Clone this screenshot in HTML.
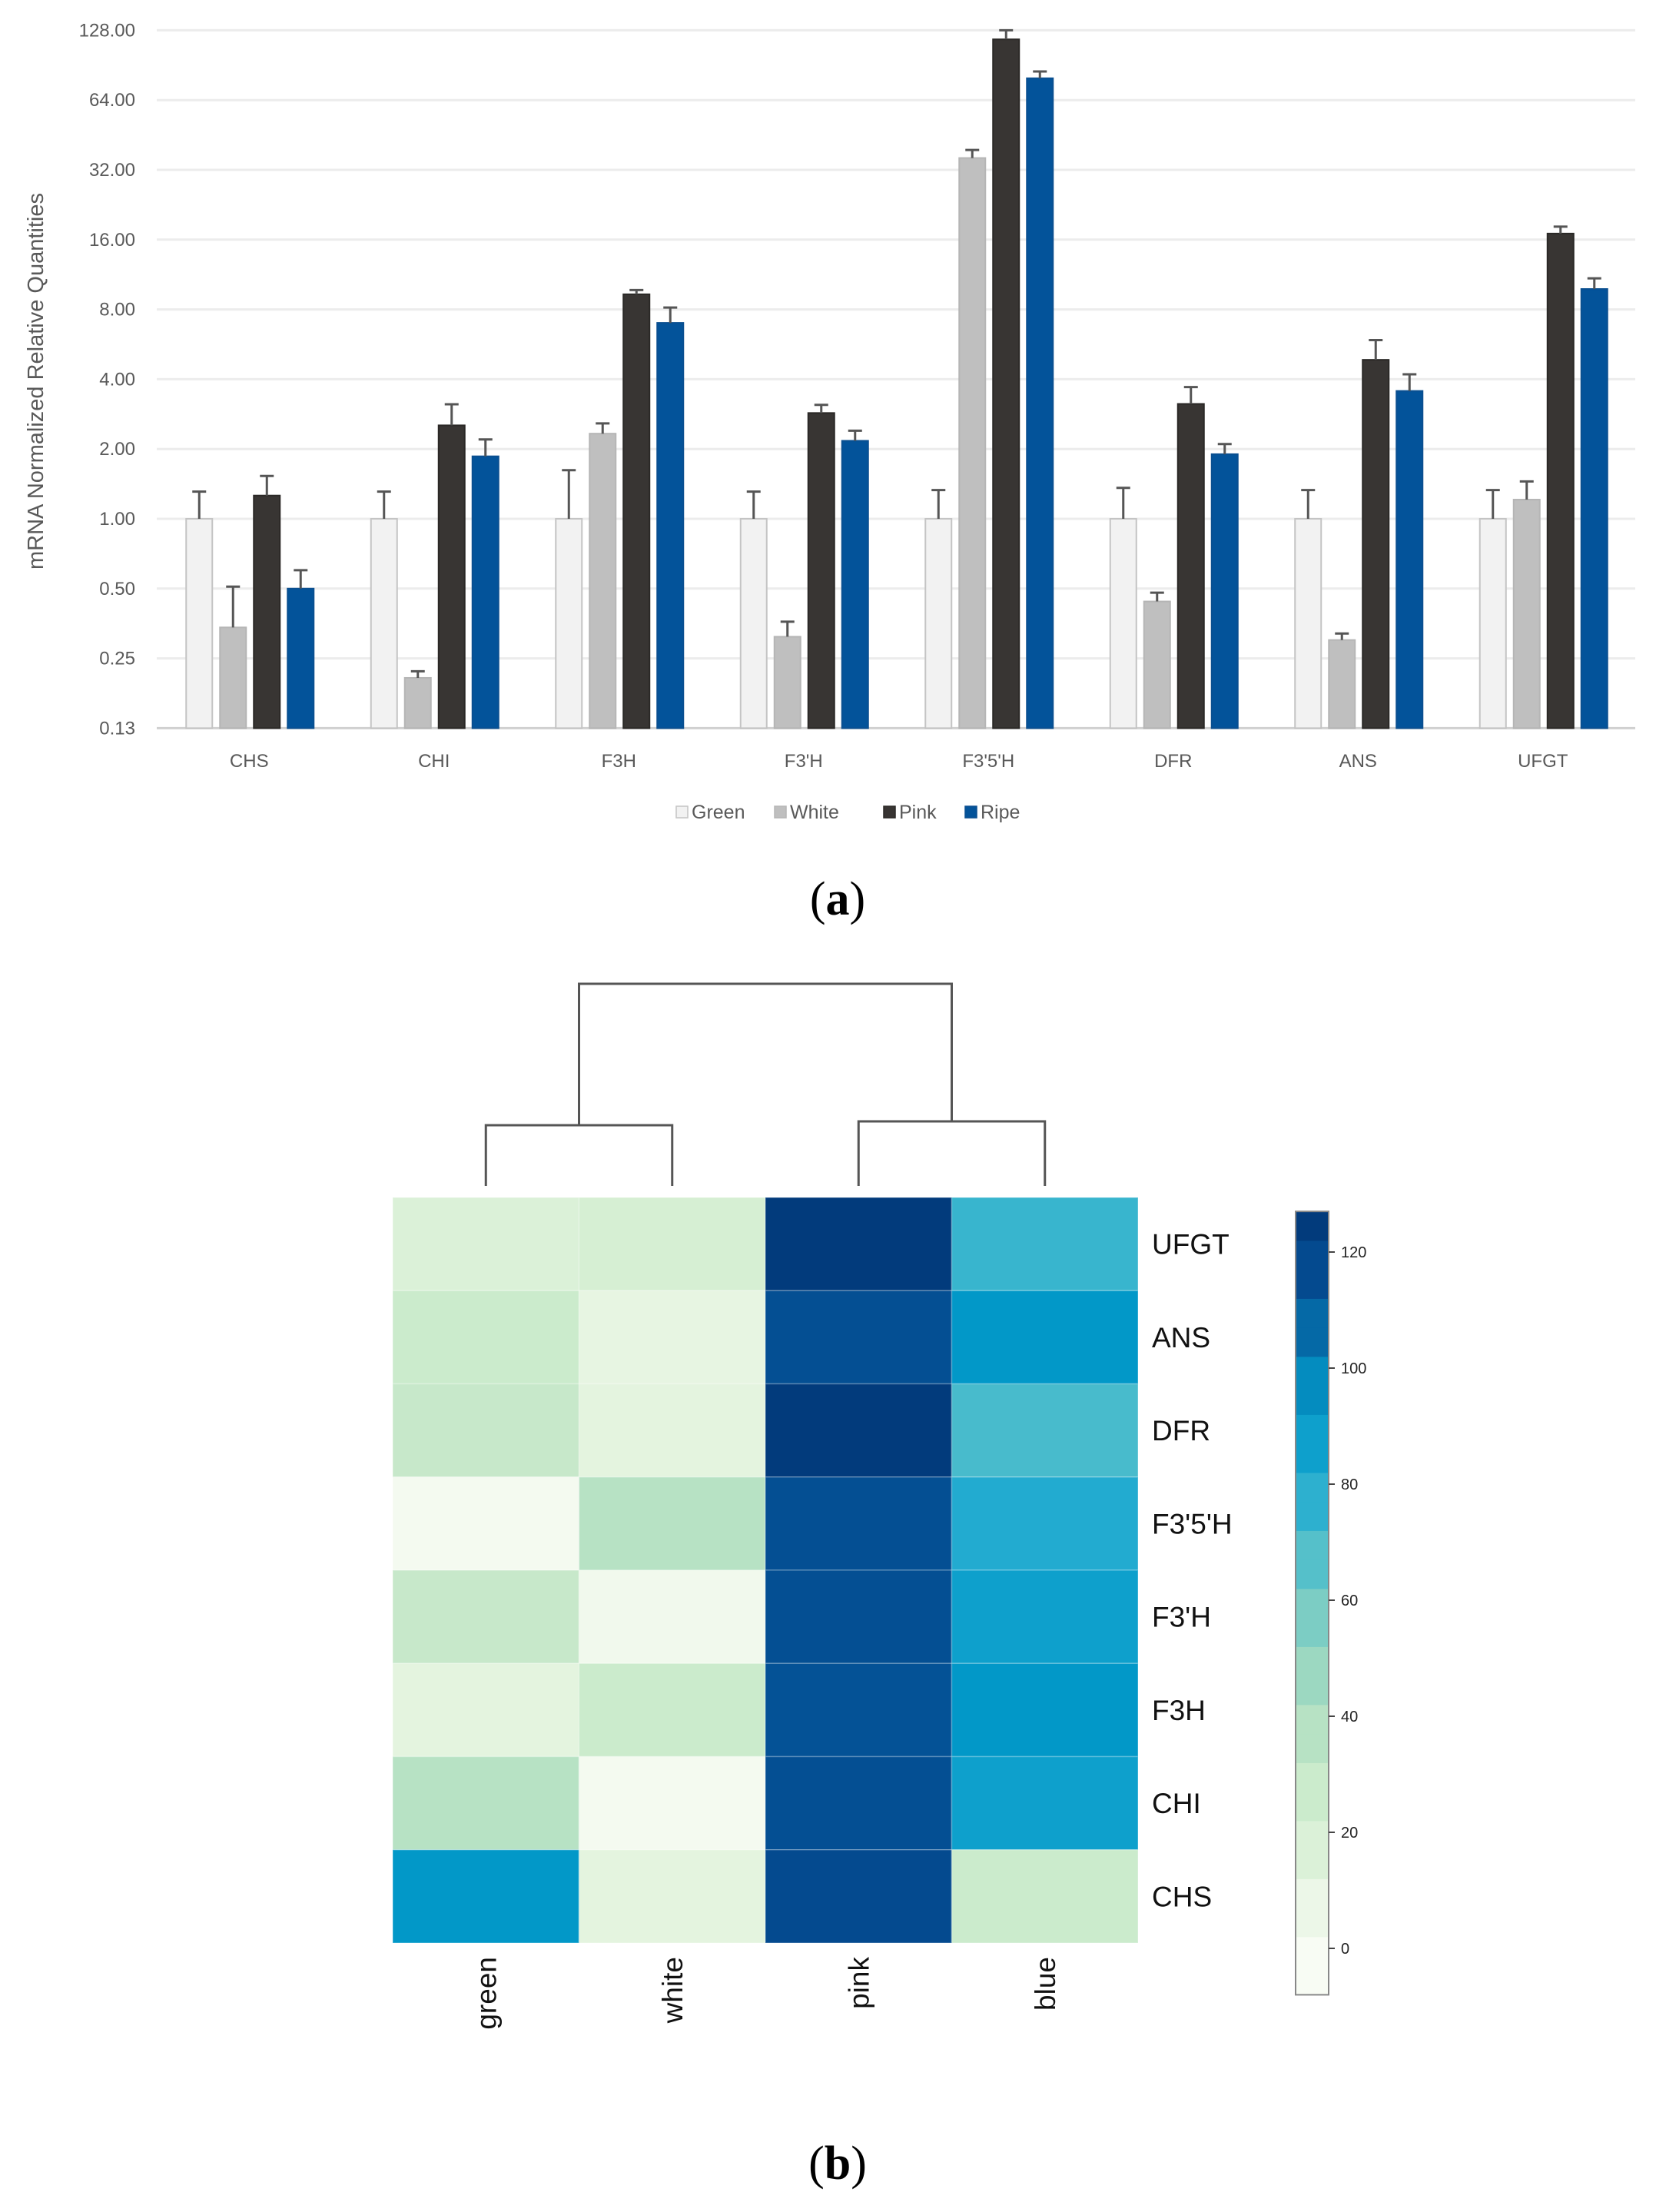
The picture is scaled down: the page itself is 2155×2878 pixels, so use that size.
<!DOCTYPE html>
<html><head><meta charset="utf-8"><style>
html,body{margin:0;padding:0;background:#fff;}
svg{display:block;font-family:"Liberation Sans",sans-serif;}
</style></head><body>
<svg id="fig" width="2155" height="2878" viewBox="0 0 2155 2878">
<g id="barchart"></g>
<g id="heatmap"></g>
</svg>
<script>
// ---- Bar chart data ----
const genes = ["CHS","CHI","F3H","F3'H","F3'5'H","DFR","ANS","UFGT"];
const seriesNames = ["Green","White","Pink","Ripe"];
const greenVals = [1,1,1,1,1,1,1,1];
const greenErr  = [1.31,1.31,1.62,1.31,1.33,1.36,1.33,1.33];
const whiteVals = [0.34,0.206,2.33,0.31,36,0.44,0.30,1.21];
const whiteErr  = [0.51,0.22,2.58,0.36,39,0.48,0.32,1.45];
const pinkVals  = [1.26,2.53,9.3,2.86,117,3.13,4.85,17];
const pinkErr   = [1.53,3.12,9.7,3.1,128,3.7,5.9,18.2];
const ripeVals  = [0.50,1.86,7.0,2.17,79.5,1.9,3.56,9.8];
const ripeErr   = [0.60,2.2,8.15,2.4,85,2.1,4.2,10.9];
const yTicks = [0.125,0.25,0.5,1,2,4,8,16,32,64,128];
const yTickLabels = ["0.13","0.25","0.50","1.00","2.00","4.00","8.00","16.00","32.00","64.00","128.00"];

// ---- Heatmap data ----
const hmRows = ["UFGT","ANS","DFR","F3'5'H","F3'H","F3H","CHI","CHS"];
const hmCols = ["green","white","pink","blue"];
const hmGreen = [15,25,28,0,28,10,35,90];
const hmWhite = [18,8,10,35,2,25,0,10];
const hmPink  = [125,112,125,112,112,110,112,115];
const hmBlue  = [72,90,68,78,85,90,85,25];
const cbTicks = [0,20,40,60,80,100,120];

const NS="http://www.w3.org/2000/svg";
function mk(tag,attrs,parent){const e=document.createElementNS(NS,tag);for(const k in attrs)e.setAttribute(k,attrs[k]);parent.appendChild(e);return e;}

// ===== Bar chart =====
(function(){
const g=document.getElementById('barchart');
const L=204,R=2128,Y1=675,STEP=90.8;
const y=v=>Y1-STEP*Math.log2(v);
const band=(R-L)/genes.length;
const xc=i=>L+band*(i+0.5);
yTicks.forEach((t,i)=>{
  const gl=mk('line',{x1:L,x2:R,y1:y(t),y2:y(t),stroke:i===0?'#d0d0d0':'#ececec','stroke-width':3},g);
  
  
  const tl=mk('text',{x:176,y:y(t)+8,'text-anchor':'end','font-size':24,fill:'#595959'},g);
  tl.textContent=yTickLabels[i];
  
  
});
const yt=mk('text',{x:0,y:0,transform:'translate(56,496) rotate(-90)','text-anchor':'middle','font-size':29,fill:'#595959'},g);
yt.textContent='mRNA Normalized Relative Quantities';


const series=[[greenVals,greenErr,'#f2f2f2','#c4c4c4'],[whiteVals,whiteErr,'#bfbfbf','#b5b5b5'],[pinkVals,pinkErr,'#383533','#2a2826'],[ripeVals,ripeErr,'#03539a','#0a4f90']];
const bw=34,pitch=44;
genes.forEach((gn,i)=>{
  series.forEach((s,j)=>{
    const x0=xc(i)-82+j*pitch;
    const v=s[0][i],e=s[1][i];
    const r=mk('rect',{x:x0,y:y(v),width:bw,height:y(0.125)-y(v),fill:s[2],stroke:s[3],'stroke-width':2},g);
    
    
    const cx=x0+bw/2;
    const el=mk('path',{d:`M${cx},${y(v)}V${y(e)}M${cx-9},${y(e)}H${cx+9}`,stroke:'#555','stroke-width':3,fill:'none'},g);
    
    
  });
  const lb=mk('text',{x:xc(i),y:998,'text-anchor':'middle','font-size':24,fill:'#595959'},g);
  lb.textContent=gn;
  
  
});
// legend
const legX=[880,1008,1150,1256];
seriesNames.forEach((n,j)=>{
  const sq=mk('rect',{x:legX[j],y:1049,width:15,height:15,fill:series[j][2],stroke:series[j][3],'stroke-width':1.5},g);
  
  
  const t=mk('text',{x:legX[j]+20,y:1065,'font-size':25,fill:'#595959'},g);
  t.textContent=n;
  
  
});
const pa=mk('text',{x:1090,y:1190,'text-anchor':'middle','font-size':62,'font-family':'Liberation Serif, serif',fill:'#000'},g);
pa.innerHTML='(<tspan font-weight="bold">a</tspan>)';


})();

// ===== Heatmap =====
(function(){
const g=document.getElementById('heatmap');
const stops=[[-8,[251,253,247]],[0,[244,250,240]],[10,[228,244,223]],[20,[210,238,208]],[30,[196,231,200]],[40,[169,220,192]],[50,[142,211,193]],[60,[106,199,198]],[70,[64,184,206]],[80,[26,168,208]],[90,[2,152,200]],[100,[5,128,182]],[110,[4,82,150]],[120,[3,66,135]],[127,[1,56,120]]];
function col(v){
  if(v<=stops[0][0])return `rgb(${stops[0][1]})`;
  for(let k=1;k<stops.length;k++){if(v<=stops[k][0]){const a=stops[k-1],b=stops[k],t=(v-a[0])/(b[0]-a[0]);return 'rgb('+a[1].map((c,q)=>Math.round(c+(b[1][q]-c)*t)).join(',')+')';}}
  return `rgb(${stops[stops.length-1][1]})`;
}
const X0=511,Y0=1558,cw=242.5,rh=121.25;
const cols=[hmGreen,hmWhite,hmPink,hmBlue];
cols.forEach((vals,c)=>{
  vals.forEach((v,r)=>{
    const cell=mk('rect',{x:X0+c*cw,y:Y0+r*rh,width:cw,height:rh,fill:col(v),stroke:'rgba(255,255,255,0.25)','stroke-width':1.5},g);
    
    
  });
  const cx=X0+(c+0.5)*cw;
  const t=mk('text',{x:0,y:0,transform:`translate(${cx+13},2546) rotate(-90)`,'text-anchor':'end','font-size':37,fill:'#111'},g);
  t.textContent=hmCols[c];
  
  
});
hmRows.forEach((n,r)=>{
  const t=mk('text',{x:1499,y:Y0+(r+0.5)*rh+13,'font-size':37,fill:'#111'},g);
  t.textContent=n;
  
  
});
// dendrogram
const cc=i=>X0+(i+0.5)*cw;
const d=mk('path',{d:`M${cc(0)},1543V1464H${cc(1)}V1543M${cc(2)},1543V1459H${cc(3)}V1543M${(cc(0)+cc(1))/2},1464V1280H${(cc(2)+cc(3))/2}V1459`,stroke:'#555','stroke-width':3,fill:'none'},g);


// colorbar
const CX=1686,CW=43,cy=v=>2535-(v/20)*151;
for(let v=-8;v<127;v+=5){
  const v2=Math.min(v+5,127);
  const b=mk('rect',{x:CX,y:cy(v2),width:CW,height:cy(v)-cy(v2)+0.5,fill:col(Math.floor(((v+v2)/2)/10)*10+5)},g);
  
  
}
const fr=mk('rect',{x:CX,y:cy(127),width:CW,height:cy(-8)-cy(127),fill:'none',stroke:'#888','stroke-width':2},g);


cbTicks.forEach(t=>{
  const tk=mk('line',{x1:CX+CW,x2:CX+CW+8,y1:cy(t),y2:cy(t),stroke:'#444','stroke-width':2},g);
  
  
  const tl=mk('text',{x:CX+CW+16,y:cy(t)+7,'font-size':20,fill:'#222'},g);
  tl.textContent=String(t);
  
  
});
const pb=mk('text',{x:1090,y:2835,'text-anchor':'middle','font-size':62,'font-family':'Liberation Serif, serif',fill:'#000'},g);
pb.innerHTML='(<tspan font-weight="bold">b</tspan>)';


})();
</script>
</body></html>
